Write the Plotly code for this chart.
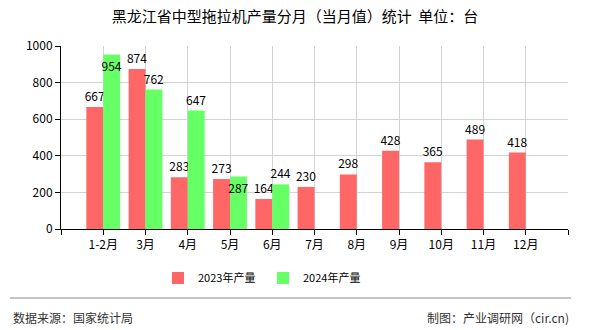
import plotly.graph_objects as go

categories = ["1-2月", "3月", "4月", "5月", "6月", "7月", "8月", "9月", "10月", "11月", "12月"]
values_2023 = [667, 874, 283, 273, 164, 230, 298, 428, 365, 489, 418]
values_2024 = [954, 762, 647, 287, 244]
series_names = ["2023年产量", "2024年产量"]
y_ticks = [0, 200, 400, 600, 800, 1000]
label_pos_2024 = ["inside", "outside", "outside", "inside", "outside"]

FONT = "Noto Sans CJK SC"
L, R, T, B = 61, 22, 46, 101
W, H = 590, 330
pw, ph = W - L - R, H - T - B

def px_x(x):
    return (x - L) / pw

def px_y(y):
    return (H - B - y) / ph

xs23 = list(range(len(values_2023)))
xs24 = list(range(len(values_2024)))

lblfont = dict(family=FONT, size=12, color="#000")

fig = go.Figure()
fig.add_trace(go.Bar(
    x=xs23, y=values_2023, name=series_names[0],
    marker=dict(color="#ff6666", line=dict(width=0)),
    text=[str(v) for v in values_2023], textposition="outside", textangle=0,
    textfont=lblfont, insidetextfont=lblfont, outsidetextfont=lblfont,
    constraintext="none", insidetextanchor="end",
    cliponaxis=False, offsetgroup="a",
))
fig.add_trace(go.Bar(
    x=xs24, y=values_2024, name=series_names[1],
    marker=dict(color="#66ff66", line=dict(width=0)),
    text=[str(v) for v in values_2024], textposition=label_pos_2024, textangle=0,
    textfont=lblfont, insidetextfont=lblfont, outsidetextfont=lblfont,
    constraintext="none", insidetextanchor="end",
    cliponaxis=False, offsetgroup="b",
))

tickvals = list(range(-1, len(categories) + 1))
ticktext = [""] + categories + [""]

fig.update_layout(
    width=W, height=H,
    margin=dict(l=L, r=R, t=T, b=B, pad=0),
    paper_bgcolor="white", plot_bgcolor="white",
    barmode="group", bargap=0.2, bargroupgap=0,
    font=dict(family=FONT, size=12, color="#000"),
    title=dict(text="黑龙江省中型拖拉机产量分月（当月值）统计  单位：台",
               x=0.5, xanchor="center", y=1 - 17 / H, yanchor="middle",
               font=dict(family=FONT, size=15, color="#000")),
    legend=dict(orientation="h", x=px_x(158), xanchor="left", y=px_y(278), yanchor="middle",
                font=dict(family=FONT, size=11, color="#000"),
                itemwidth=30, entrywidth=60, entrywidthmode="pixels", traceorder="normal"),
    xaxis=dict(range=[-1, len(categories)], tickmode="array", tickvals=tickvals, ticktext=ticktext,
               showgrid=True, gridcolor="#d3d3d3", gridwidth=1,
               showline=True, linecolor="#000", linewidth=1,
               ticks="outside", ticklen=5, tickcolor="#000",
               tickfont=dict(family=FONT, size=12, color="#000"), zeroline=False),
    yaxis=dict(range=[0, 1000], tickmode="array", tickvals=y_ticks,
               showgrid=True, gridcolor="#d3d3d3", gridwidth=1,
               showline=True, linecolor="#000", linewidth=1,
               ticks="outside", ticklen=5, tickcolor="#000",
               tickfont=dict(family=FONT, size=12, color="#000"), zeroline=False),
    shapes=[dict(type="line", xref="paper", yref="paper",
                 x0=px_x(10), x1=px_x(571), y0=px_y(298), y1=px_y(298),
                 line=dict(color="#888", width=1))],
    annotations=[
        dict(text="数据来源：国家统计局", xref="paper", yref="paper", x=px_x(11), y=px_y(317),
             xanchor="left", yanchor="middle", showarrow=False,
             font=dict(family=FONT, size=12, color="#333")),
        dict(text="制图：产业调研网（cir.cn)", xref="paper", yref="paper", x=px_x(571), y=px_y(317),
             xanchor="right", yanchor="middle", showarrow=False,
             font=dict(family=FONT, size=12, color="#333")),
    ],
)

fig.write_html("out.html")
